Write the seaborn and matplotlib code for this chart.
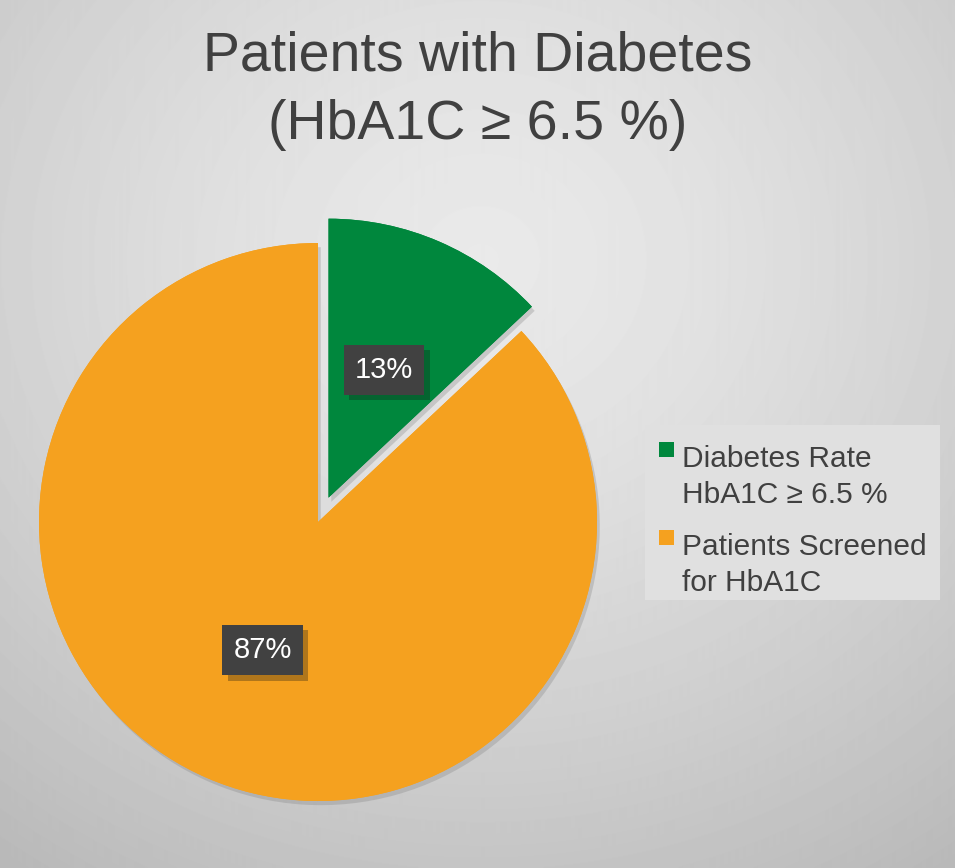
import numpy as np
import matplotlib
matplotlib.use("Agg")
import matplotlib.pyplot as plt
import matplotlib.patheffects as pe
from matplotlib.patches import Rectangle
import seaborn as sns

# chart data
categories = ["Diabetes Rate\nHbA1C \u2265 6.5 %", "Patients Screened\nfor HbA1C"]
shares = [13, 87]
slice_colors = ["#00873D", "#F5A11F"]
title = "Patients with Diabetes\n(HbA1C \u2265 6.5 %)"

sns.set_theme(style="white")
plt.rcParams["font.family"] = ["Liberation Sans", "DejaVu Sans"]

W, H = 955, 868
fig = plt.figure(figsize=(W / 100, H / 100), dpi=100)

# background gradient (light centre-top, darker towards bottom corners)
bg = fig.add_axes([0, 0, 1, 1], zorder=-10)
yy, xx = np.mgrid[0:H, 0:W]
d = np.sqrt(((xx - 480) / W) ** 2 + ((yy - 260) / H) ** 2)
shade = 0.915 - 0.19 * np.clip(d / 0.85, 0, 1) ** 1.4
bg.imshow(shade, cmap="gray", vmin=0, vmax=1, aspect="auto", extent=[0, 1, 0, 1])
bg.set_xlim(0, 1)
bg.set_ylim(0, 1)
bg.set_axis_off()

# pie axes: centre at (318, 522) px, radius ~279 px
R = 279
half = 300
ax = fig.add_axes([(318 - half) / W, (H - 522 - half) / H, 2 * half / W, 2 * half / H])
wedges, texts, autotexts = ax.pie(
    shares,
    colors=slice_colors,
    startangle=90,
    counterclock=False,
    explode=[0.095, 0],
    autopct="%d%%",
    pctdistance=0.5,
    wedgeprops=dict(linewidth=0),
    textprops=dict(color="white", fontsize=21),
)
for w in wedges:
    w.set_path_effects([pe.withSimplePatchShadow(offset=(2, -3), shadow_rgbFace="#808080", alpha=0.3),
                        pe.Normal()])
for t in autotexts:
    t.set_bbox(dict(boxstyle="square,pad=0.38", facecolor="#414141", edgecolor="none"))
    t.get_bbox_patch().set_path_effects([pe.withSimplePatchShadow(offset=(4, -4), alpha=0.3),
                                         pe.Normal()])
lim = half / R
ax.set_xlim(-lim, lim)
ax.set_ylim(-lim, lim)
ax.set_axis_off()

fig.text(0.5, 1 - 91 / H, title, ha="center", va="center", fontsize=40,
         color="#404040", linespacing=1.42)

# legend drawn on the background axes, square aligned with first text line
px = lambda x, y: (x / W, 1 - y / H)
bg.add_patch(Rectangle(px(645, 600), 295 / W, 175 / H, facecolor="#e0e0e0",
                       edgecolor="none", transform=bg.transAxes, zorder=2))
for i, (lab, col) in enumerate(zip(categories, slice_colors)):
    top = 442 + i * 88
    bg.add_patch(Rectangle(px(659, top + 15), 15 / W, 15 / H, facecolor=col,
                           edgecolor="none", transform=bg.transAxes, zorder=3))
    bg.text(*px(682, top + 3), lab, ha="left", va="top", fontsize=21.5,
            color="#404040", linespacing=1.38, transform=bg.transAxes, zorder=3)

fig.savefig("out.png", dpi=100)
